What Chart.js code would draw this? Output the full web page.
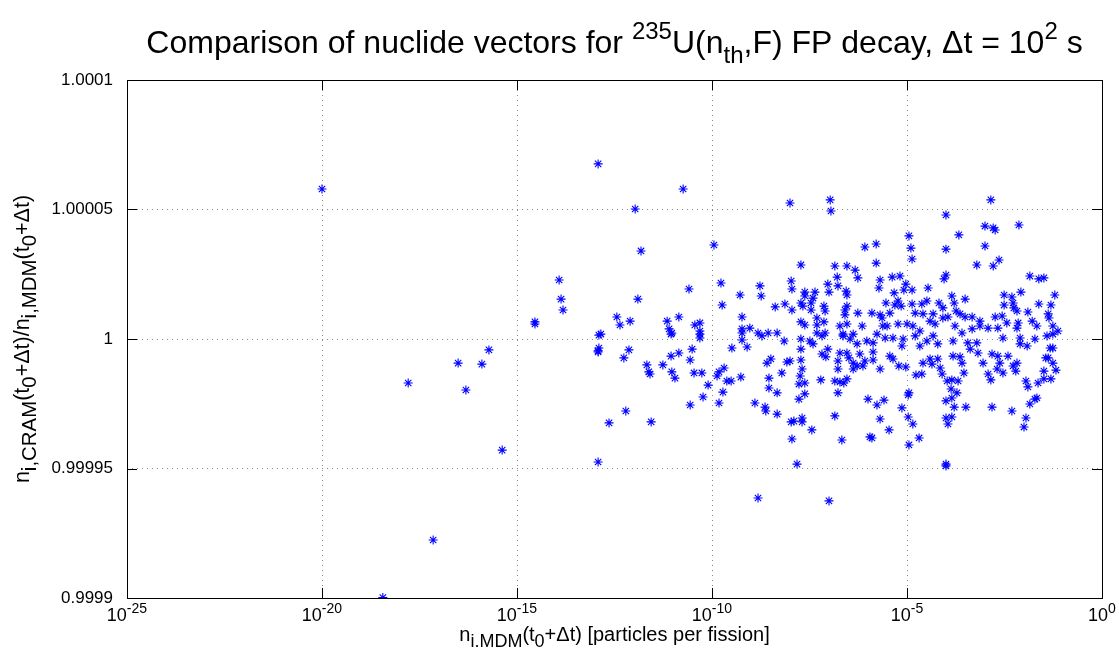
<!DOCTYPE html>
<html>
<head>
<meta charset="utf-8">
<script src="https://cdn.jsdelivr.net/npm/chart.js@4.4.1/dist/chart.umd.min.js"></script>
<style>
  body { margin: 0; background: #fff; }
  canvas { display: block; }
</style>
</head>
<body>
<canvas id="chart" width="1119" height="661"></canvas>
<script>
// log10 of n_i,MDM for every nuclide
const nExp = [
  -20.00, -14.54, -14.54, -13.92, -13.87, -13.82, -12.92, -17.79, -16.51, -16.31,
  -15.90, -15.72, -15.38, -17.15, -18.44, -12.92, -12.90, -12.92, -12.90, -10.74,
  -11.97, -11.82, -10.59, -11.90, -12.44, -12.36, -12.10, -11.15, -10.85, -11.10,
  -11.03, -10.44, -10.31, -10.31, -12.85, -12.92, -12.13, -12.26, -11.67, -11.62,
  -11.59, -11.26, -11.05, -10.85, -11.03, -10.95, -10.51, -10.56, -10.46, -10.26,
  -10.23, -10.56, -12.21, -12.64, -11.56, -11.05, -10.31, -10.31,
  -8.00, -6.97, -6.95, -9.95, -6.08, -5.79, -5.79, -7.72, -6.85, -6.54,
  -6.33, -6.26, -6.79, -5.69, -5.72, -9.77, -9.74, -8.77, -8.74, -9.28,
  -7.97, -7.95, -7.03, -7.00, -6.77, -6.56, -6.54, -7.62, -7.62, -7.36,
  -7.41, -7.46, -7.72, -7.67, -7.46, -8.13, -8.38, -7.95, -7.13, -7.10,
  -6.54, -6.59, -6.59, -6.26, -5.90, -9.23, -7.72, -7.62, -7.31, -7.31,
  -7.13, -6.72, -6.54, -6.15, -5.64, -5.62, -9.23, -9.03, -8.82, -8.56,
  -8.33, -9.23, -7.31, -7.10, -6.64, -6.38,
  -2.85, -4.00, -3.00, -2.79, -2.74, -2.13, -3.67, -4.95, -4.90, -4.87,
  -4.00, -3.00, -3.21, -2.79, -2.64, -4.00, -4.05, -1.85, -1.62, -1.49,
  -5.38, -5.18, -5.03, -5.08, -4.87, -4.46, -5.33, -2.08, -2.51, -2.31,
  -1.21, -3.85, -3.51, -2.28, -2.51, -2.26, -2.18, -1.62, -1.31, -5.54,
  -5.23, -5.31, -5.15, -4.87, -4.62, -4.49, -4.18, -4.08, -3.79, -3.74,
  -3.64, -4.79, -4.59, -4.33, -5.44, -5.69, -2.74, -2.56, -1.90, -1.38,
  -1.36, -1.79, -2.15, -2.44, -3.13, -3.33, -3.51, -4.08, -3.95, -4.41,
  -5.00, -5.23, -5.51, -4.85, -4.67, -4.28, -3.77, -3.33, -3.13, -2.92,
  -2.67, -2.18, -1.67, -1.26, -1.13,
  -9.49, -9.10, -9.23, -8.72, -8.15, -7.72, -7.72, -8.59, -8.49, -8.08,
  -8.00, -7.72, -8.21, -8.54, -8.54, -8.33, -10.10, -9.87, -9.82, -9.69,
  -9.62, -9.51, -9.72, -9.82, -9.26, -8.90, -8.64, -8.62, -8.33, -7.97,
  -7.90, -7.69, -7.69, -7.44, -7.95, -7.82, -8.82, -7.00, -7.77, -7.62,
  -7.77, -7.62, -7.74, -7.69, -7.21, -6.77, -6.85, -6.67, -6.00, -5.77,
  -5.69, -5.95, -5.90, -5.69, -5.87, -6.13, -6.85, -6.72, -6.54, -6.62,
  -6.77, -6.77, -6.72, -6.54, -6.49, -6.38, -6.28, -6.38, -6.21, -6.08,
  -5.87, -7.18, -7.08, -7.03, -7.41, -7.49, -7.18, -6.64, -6.46, -6.28,
  -6.03, -5.87, -5.77,
  -4.00, -4.00, -4.95, -4.69, -5.46, -4.85, -4.97, -5.13, -5.59, -4.97,
  -4.95, -4.00, -3.95, -3.85, -4.00, -3.85, -3.79, -3.72, -3.87, -3.49,
  -2.82, -2.31, -1.95, -2.00, -1.85, -1.72, -1.67, -1.95, -1.90, -1.64,
  -1.49, -1.31, -1.49, -1.18, -1.26, -1.38, -1.44, -1.33, -1.26, -1.41,
  -1.26, -1.72, -1.92, -2.10, -2.18, -2.28, -2.21, -2.41, -2.54, -2.69,
  -2.62, -2.67, -2.82, -2.85, -2.92, -3.05, -3.18, -3.38, -3.21, -2.54,
  -2.10, -3.44, -3.54, -3.59, -3.64, -3.82, -3.69, -3.85, -3.97, -4.10,
  -4.15, -4.21, -4.36, -4.59, -4.41, -4.62, -4.77, -5.03, -5.21, -5.36,
  -5.44, -5.56, -5.36, -5.13, -5.10, -4.79, -4.67, -4.49, -4.33, -4.21,
  -3.82, -3.59
];

// n_CRAM / n_MDM minus 1, in units of 1e-6 (same order as nExp)
const ratioPpm = [
  57.9, 5.8, 6.6, 22.8, 15.4, 11.2, 67.6, -17.0, -9.3, -19.7,
  -9.7, -4.2, -42.9, -77.6, -99.8, -4.6, -3.5, -47.5, 1.5, 57.9,
  50.2, 34.0, 19.3, 15.4, 8.5, 5.4, 6.9, 6.9, 8.5, 3.9,
  2.3, 5.4, 6.2, 3.1, 1.9, -5.0, -4.2, -7.3, -10.0, -12.7,
  -13.5, -10.0, -6.6, -5.4, -12.7, -15.1, -3.9, -8.1, -13.1, -13.1,
  -22.4, -25.5, -27.8, -32.4, -32.0, 1.9, 1.9, 0.4,
  52.5, 53.7, 49.4, 36.3, 35.5, 36.7, 29.3, 28.6, 28.2, 28.2,
  26.6, 23.6, 23.9, 22.8, 19.7, 21.6, 13.1, 20.5, 16.6, 17.0,
  22.4, 19.3, 21.2, 18.1, 20.5, 18.5, 17.0, 18.1, 16.6, 18.1,
  15.8, 13.9, 13.9, 12.7, 11.2, 13.5, 12.4, 11.2, 12.7, 10.8,
  12.7, 11.2, 9.3, 10.0, 10.0, 8.5, 6.6, 5.4, 8.1, 5.4,
  6.6, 5.0, 5.8, 5.0, 8.1, 5.0, 3.9, 4.2, 2.3, 2.3,
  2.3, 2.3, 2.3, 2.3, 1.9, 1.9,
  53.7, 47.9, 43.6, 42.9, 42.1, 44.0, 40.2, 39.8, 35.1, 30.9,
  34.7, 35.9, 28.6, 28.2, 30.5, 24.7, 23.2, 24.3, 23.2, 23.6,
  23.9, 24.3, 21.2, 18.9, 18.9, 19.7, 17.8, 18.1, 17.0, 16.2,
  17.0, 16.6, 15.4, 13.9, 13.1, 12.0, 10.8, 13.5, 13.1, 13.9,
  14.7, 13.1, 12.7, 13.5, 13.5, 14.7, 13.9, 12.0, 13.9, 10.8,
  9.7, 10.0, 9.7, 9.7, 10.0, 9.3, 8.5, 8.9, 10.4, 9.7,
  8.1, 6.9, 6.2, 6.2, 6.9, 8.5, 8.5, 8.1, 8.5, 6.9,
  5.8, 5.8, 5.0, 5.0, 3.1, 5.8, 5.0, 3.9, 5.0, 4.2,
  4.2, 4.2, 5.0, 5.0, 3.1,
  -3.5, -3.1, -0.4, 1.2, -0.8, 0.0, -3.9, -9.3, -7.7, -8.9,
  -8.5, -8.1, -13.1, -15.1, -18.9, -20.8, -17.8, -14.3, -12.7, -11.2,
  -16.2, -16.2, -20.5, -24.7, -14.7, -24.7, -26.3, -27.8, -29.0, -32.0,
  -31.7, -30.5, -32.0, -35.1, -38.6, -48.3, -61.4, -62.5, -23.2, -21.2,
  -17.4, -17.0, -14.3, -11.6, -15.8, -20.8, -29.7, -39.0, -23.2, -25.5,
  -30.9, -37.8, -38.2, -11.6, -8.1, -10.4, -16.2, -16.6, -15.4, -17.0,
  -11.6, -8.5, -5.4, -5.4, -7.3, -9.3, -10.4, -11.6, -5.8, -8.5,
  -5.0, -5.8, -6.9, -3.9, -1.9, -0.8, 1.2, 1.2, 0.0, -1.9,
  -0.8, -1.5, 1.9,
  -49.0, -48.3, -40.9, -38.2, -35.1, -32.8, -30.1, -26.6, -23.6, -21.6,
  -20.8, -30.5, -32.8, -30.1, -23.9, -22.8, -26.3, -20.8, -19.3, -26.3,
  -26.3, -27.8, -30.5, -34.0, -25.1, -23.2, -22.8, -16.2, -18.5, -17.0,
  -15.4, -15.4, -12.4, -12.0, -9.3, -7.3, -7.3, -3.5, -3.5, 1.2,
  1.9, 0.0, -2.7, -1.9, -9.3, -10.4, -12.4, -6.6, -13.1, -11.6,
  -9.3, -6.6, -5.8, -15.8, -13.5, -9.3, -5.4, -3.9, -1.5, 0.4,
  0.4, -1.5, -13.1, -9.3, -6.9, -6.6, -16.2, -15.8, -16.2, -13.5,
  -11.2, -7.7, -9.7, -9.3, -7.7, -13.5, -13.9, -10.8, -10.4, -7.7,
  -6.6, 0.4, 0.4, -2.7, 0.0, 1.2, -2.7, -0.8, 1.2, -1.9,
  -0.8, 2.3
];

const xTickExps = [-25, -20, -15, -10, -5, 0];
const yTicks = [0.9999, 0.99995, 1, 1.00005, 1.0001];
const yTickLabels = ['0.9999', '0.99995', '1', '1.00005', '1.0001'];

const FONT = '"Liberation Sans", Arial, Helvetica, sans-serif';

const points = nExp.map((e, i) => ({ x: Math.pow(10, e), y: 1 + ratioPpm[i] * 1e-6 }));

// text with super/subscripts, parts = [[text, ''|'sup'|'sub'], ...]
function drawRich(ctx, parts, x, y, size, align, ratio) {
  const r = ratio || 0.72;
  let w = 0;
  parts.forEach(([t, m]) => {
    ctx.font = (m ? size * r : size) + 'px ' + FONT;
    w += ctx.measureText(t).width;
  });
  let cx = align === 'center' ? x - w / 2 : (align === 'right' ? x - w : x);
  ctx.textAlign = 'left';
  ctx.textBaseline = 'alphabetic';
  parts.forEach(([t, m]) => {
    const s = m ? size * r : size;
    ctx.font = s + 'px ' + FONT;
    const dy = m === 'sup' ? -size * 0.45 : (m === 'sub' ? size * 0.32 : 0);
    ctx.fillText(t, cx, y + dy);
    cx += ctx.measureText(t).width;
  });
}

const matlabAxes = {
  id: 'matlabAxes',
  afterDraw(chart) {
    const { ctx, chartArea: a, scales } = chart;
    ctx.save();
    ctx.fillStyle = '#000';
    ctx.strokeStyle = '#000';
    ctx.lineWidth = 1;

    // box
    ctx.strokeRect(a.left + 0.5, a.top + 0.5, a.right - a.left, a.bottom - a.top);

    // inward tick marks
    const tl = 10;
    ctx.beginPath();
    xTickExps.forEach(e => {
      const px = Math.round(scales.x.getPixelForValue(Math.pow(10, e))) + 0.5;
      ctx.moveTo(px, a.bottom); ctx.lineTo(px, a.bottom - tl);
      ctx.moveTo(px, a.top); ctx.lineTo(px, a.top + tl);
    });
    yTicks.forEach(v => {
      const py = Math.round(scales.y.getPixelForValue(v)) + 0.5;
      ctx.moveTo(a.left, py); ctx.lineTo(a.left + tl, py);
      ctx.moveTo(a.right, py); ctx.lineTo(a.right - tl, py);
    });
    ctx.stroke();

    // x tick labels 10^n
    xTickExps.forEach(e => {
      const px = scales.x.getPixelForValue(Math.pow(10, e));
      drawRich(ctx, [['10', ''], [String(e), 'sup']], px, a.bottom + 23, 18, 'center', 0.78);
    });

    // x label
    drawRich(ctx, [['n', ''], ['i.MDM', 'sub'], ['(t', ''], ['0', 'sub'],
      ['+\u0394t) [particles per fission]', '']], (a.left + a.right) / 2, 641, 20, 'center', 0.9);

    // y label
    ctx.save();
    ctx.translate(29, (a.top + a.bottom) / 2);
    ctx.rotate(-Math.PI / 2);
    drawRich(ctx, [['n', ''], ['i,CRAM', 'sub'], ['(t', ''], ['0', 'sub'], ['+\u0394t)/n', ''],
      ['i,MDM', 'sub'], ['(t', ''], ['0', 'sub'], ['+\u0394t)', '']], 0, 0, 21.5, 'center', 0.95);
    ctx.restore();

    // title
    drawRich(ctx, [['Comparison of nuclide vectors for ', ''], ['235', 'sup'], ['U(n', ''],
      ['th', 'sub'], [',F) FP decay, \u0394t = 10', ''], ['2', 'sup'], [' s', '']],
      (a.left + a.right) / 2, 53, 32, 'center', 0.75);
    ctx.restore();
  }
};

new Chart(document.getElementById('chart'), {
  type: 'scatter',
  data: {
    datasets: [{
      data: points,
      pointStyle: 'star',
      pointRadius: 4.5,
      pointHoverRadius: 4.5,
      borderColor: '#0000ff',
      backgroundColor: '#0000ff',
      borderWidth: 1.1
    }]
  },
  options: {
    responsive: false,
    devicePixelRatio: 1,
    animation: false,
    events: [],
    layout: { padding: { top: 80, right: 17, left: 0, bottom: 0 } },
    plugins: { legend: { display: false }, tooltip: { enabled: false } },
    scales: {
      x: {
        type: 'logarithmic',
        min: 1e-25,
        max: 1,
        afterBuildTicks: s => { s.ticks = xTickExps.map(e => ({ value: Math.pow(10, e) })); },
        afterFit: s => { s.height = 63; },
        ticks: { display: false },
        grid: { color: '#888', lineWidth: 1, drawTicks: false },
        border: { display: false, dash: [1, 4] }
      },
      y: {
        min: 0.9999,
        max: 1.0001,
        afterBuildTicks: s => { s.ticks = yTicks.map(v => ({ value: v })); },
        afterFit: s => { s.width = 127; },
        ticks: {
          autoSkip: false,
          padding: 14,
          color: '#000',
          font: { family: FONT, size: 17 },
          callback: (v, i) => yTickLabels[i]
        },
        grid: { color: '#888', lineWidth: 1, drawTicks: false },
        border: { display: false, dash: [1, 4] }
      }
    }
  },
  plugins: [matlabAxes]
});
</script>
</body>
</html>
